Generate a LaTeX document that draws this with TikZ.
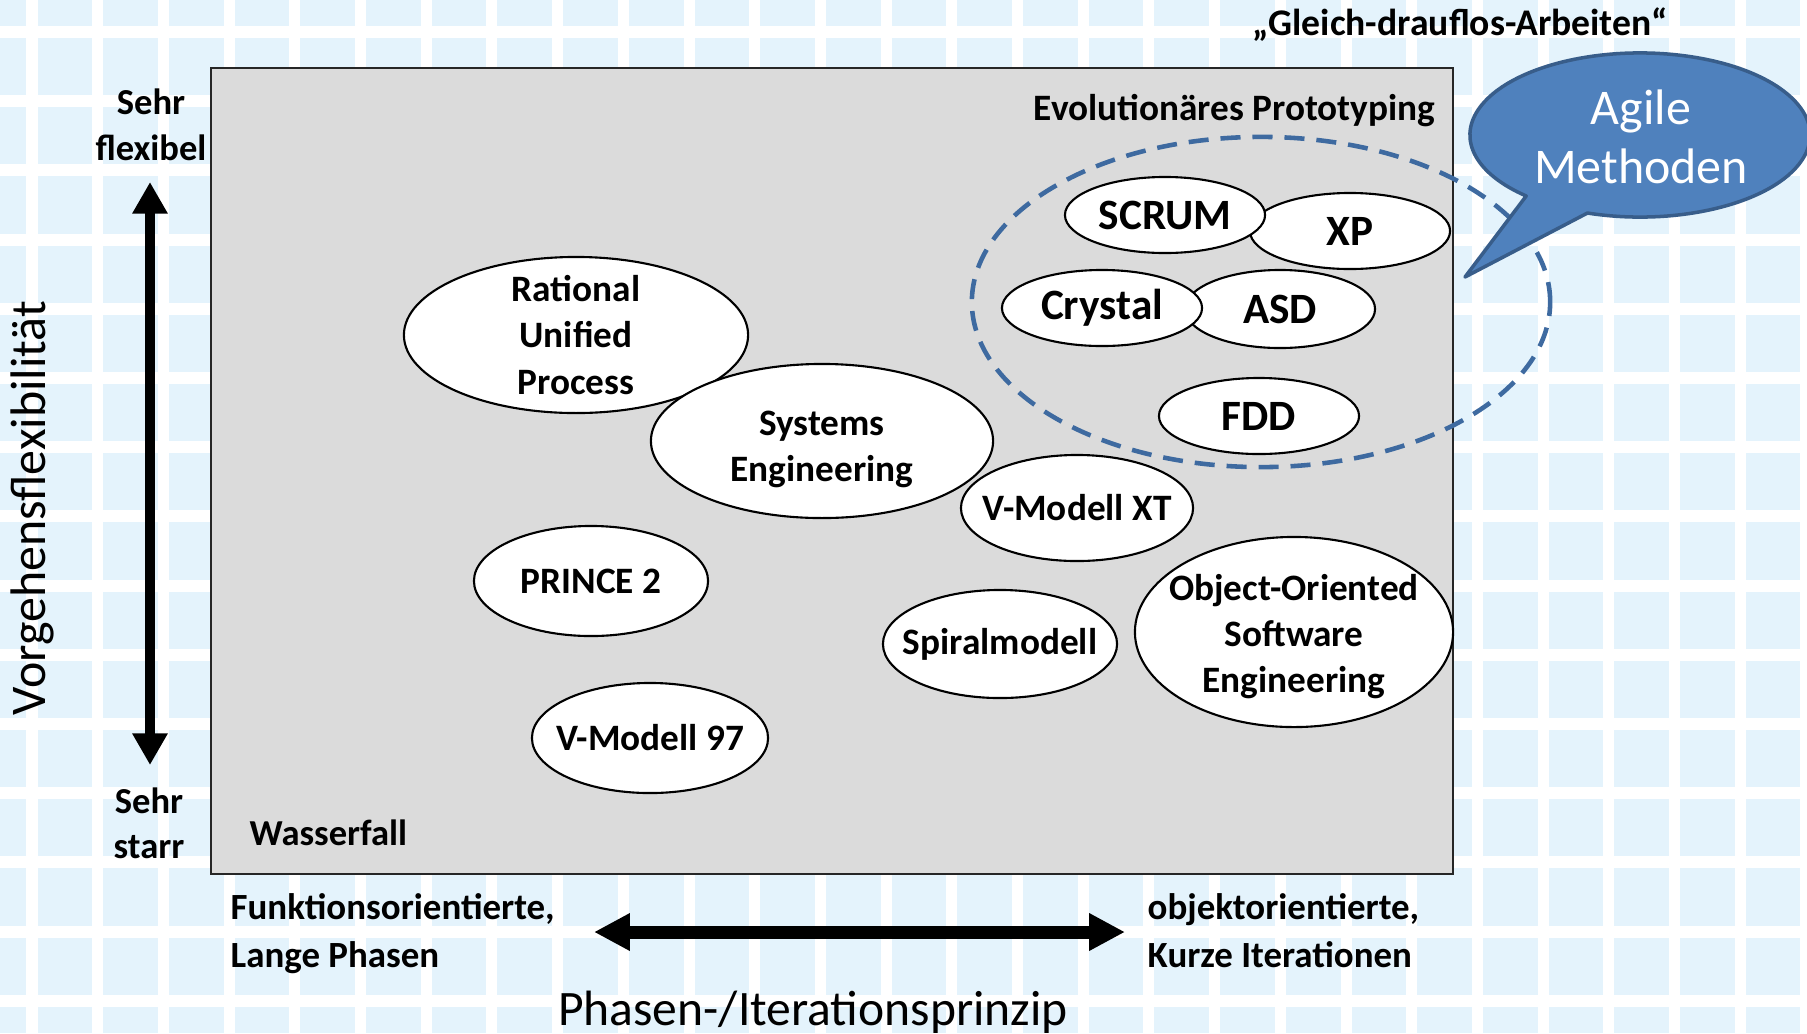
\documentclass[tikz,border=0pt]{standalone}
\usepackage{fontspec}
\setmainfont{Carlito}
\usetikzlibrary{arrows.meta,calc,shapes.geometric}
\definecolor{gridblue}{RGB}{228,243,252}
\definecolor{boxgray}{RGB}{219,219,219}
\definecolor{dashblue}{RGB}{62,106,160}
\definecolor{bubblefill}{RGB}{79,129,189}
\definecolor{bubbleline}{RGB}{56,93,138}
\begin{document}
\begin{tikzpicture}[x=0.01cm,y=-0.01cm,
  ell/.style={ellipse, draw=black, line width=0.6pt, fill=white, inner sep=0pt},
  etxt/.style={font=\bfseries\fontsize{10.6}{13.1}\selectfont, align=center, inner sep=0pt},
  atxt/.style={font=\bfseries\fontsize{12.3}{14}\selectfont, inner sep=0pt},
  lbl/.style={font=\bfseries\fontsize{10.4}{12.8}\selectfont, align=center, inner sep=0pt, anchor=base},
  sidelbl/.style={font=\bfseries\fontsize{10.5}{13.4}\selectfont, align=left, inner sep=0pt, anchor=base west}
]
\clip (0,0) rectangle (1807,1033);
% background grid
\fill[gridblue] (0,0) rectangle (1807,1033);
\foreach \k in {0,...,27} \draw[white, line width=3.13pt] ({32+65.7*\k},0) -- ({32+65.7*\k},1033);
\foreach \k in {0,...,14} \draw[white, line width=3.4pt] (0,{32+69.2*\k}) -- (1807,{32+69.2*\k});
% chart area
\draw[fill=boxgray, draw=black!85, line width=0.8pt] (211,68) rectangle (1453,874);
% method ellipses
\node[ell, minimum width=3.44cm, minimum height=1.56cm] (rup) at (576,335) {};
\node[etxt] (rupt) at (rup) {Rational\\Unified\\Process};
\node[ell, minimum width=3.42cm, minimum height=1.54cm] (se) at (822,441) {};
\node[etxt] (set) at ([yshift=-2.3pt]se.center) {Systems\\Engineering};
\node[ell, minimum width=2.34cm, minimum height=1.10cm] (prince) at (591,581) {};
\node[etxt] (princet) at (prince) {PRINCE 2};
\node[ell, minimum width=2.36cm, minimum height=1.10cm] (v97) at (650,738) {};
\node[etxt] (v97t) at (v97) {V-Modell 97};
\node[ell, minimum width=2.32cm, minimum height=1.06cm] (vxt) at (1077,508) {};
\node[etxt] (vxtt) at (vxt) {V-Modell XT};
\node[ell, minimum width=2.34cm, minimum height=1.08cm] (spiral) at (1000,644) {};
\node[etxt] (spiralt) at (spiral) {Spiralmodell};
\node[ell, minimum width=3.18cm, minimum height=1.90cm] (oose) at (1294,632) {};
\node[etxt] (ooset) at ([yshift=-1.3pt]oose.center) {Object-Oriented\\Software\\Engineering};
\node[ell, minimum width=2.00cm, minimum height=0.76cm] (xp) at (1350,231) {};
\node[atxt] (xpt) at (xp) {XP};
\node[ell, minimum width=2.00cm, minimum height=0.76cm] (scrum) at (1165,215) {};
\node[atxt] (scrumt) at (scrum) {SCRUM};
\node[ell, minimum width=1.90cm, minimum height=0.78cm] (asd) at (1280,309) {};
\node[atxt] (asdt) at (asd) {ASD};
\node[ell, minimum width=2.00cm, minimum height=0.76cm] (crystal) at (1102,308) {};
\node[atxt] (crystalt) at (crystal) {Crystal};
\node[ell, minimum width=2.00cm, minimum height=0.76cm] (fdd) at (1259,416) {};
\node[atxt] (fddt) at (fdd) {FDD};
% agile zone
\node[ellipse, draw=dashblue, line width=1.3pt, dash pattern=on 5.7pt off 3.4pt, minimum width=5.78cm, minimum height=3.30cm, inner sep=0pt] (agilezone) at (1261,302) {};
% speech bubble
\coordinate (bc) at (1640,135);
\coordinate (tip) at (1465,277);
\filldraw[fill=bubblefill, draw=bubbleline, line width=1pt, line join=round]
  ($(bc)+(228:1.7cm and 0.82cm)$) -- (tip) -- ($(bc)+(252:1.7cm and 0.82cm)$)
  arc[start angle=252, end angle=588, x radius=1.7cm, y radius=0.82cm] -- cycle;
\node[font=\fontsize{14.2}{16.6}\selectfont, text=white, align=center, inner sep=0pt, anchor=base] (agile) at (1641,183) {Agile\\Methoden};
% labels
\node[lbl, font=\bfseries\fontsize{10.7}{12.8}\selectfont] (gleich) at (1460,35) {„Gleich-drauflos-Arbeiten“};
\node[lbl, font=\bfseries\fontsize{10.6}{12.8}\selectfont, anchor=base east] (evo) at (1436,120) {Evolutionäres Prototyping};
\node[lbl] (flex) at (151,160) {Sehr\\flexibel};
\node[lbl] (starr) at (149,858) {Sehr\\starr};
\node[lbl, anchor=base west] (wf) at (249,845) {Wasserfall};
\node[sidelbl] (fo) at (230,967) {Funktionsorientierte,\\Lange Phasen};
\node[sidelbl] (oo) at (1147,967) {objektorientierte,\\Kurze Iterationen};
\node[font=\fontsize{14.1}{16}\selectfont, inner sep=0pt, anchor=base] (phase) at (813,1025) {Phasen-/Iterationsprinzip};
\node[font=\fontsize{14.2}{16}\selectfont, inner sep=0pt, anchor=base, rotate=90] (vfl) at (45,508) {Vorgehensflexibilität};
% axis arrows
\coordinate (vtop) at (150,182);
\coordinate (vbot) at (150,765);
\draw[line width=2.85pt, {Triangle[width=9.5pt,length=9pt]}-{Triangle[width=9.5pt,length=9pt]}] (vtop) -- (vbot);
\coordinate (hl) at (594,932);
\coordinate (hr) at (1125,932);
\draw[line width=3.7pt, {Triangle[width=10pt,length=10.2pt]}-{Triangle[width=10pt,length=10.2pt]}] (hl) -- (hr);
\end{tikzpicture}
\end{document}
